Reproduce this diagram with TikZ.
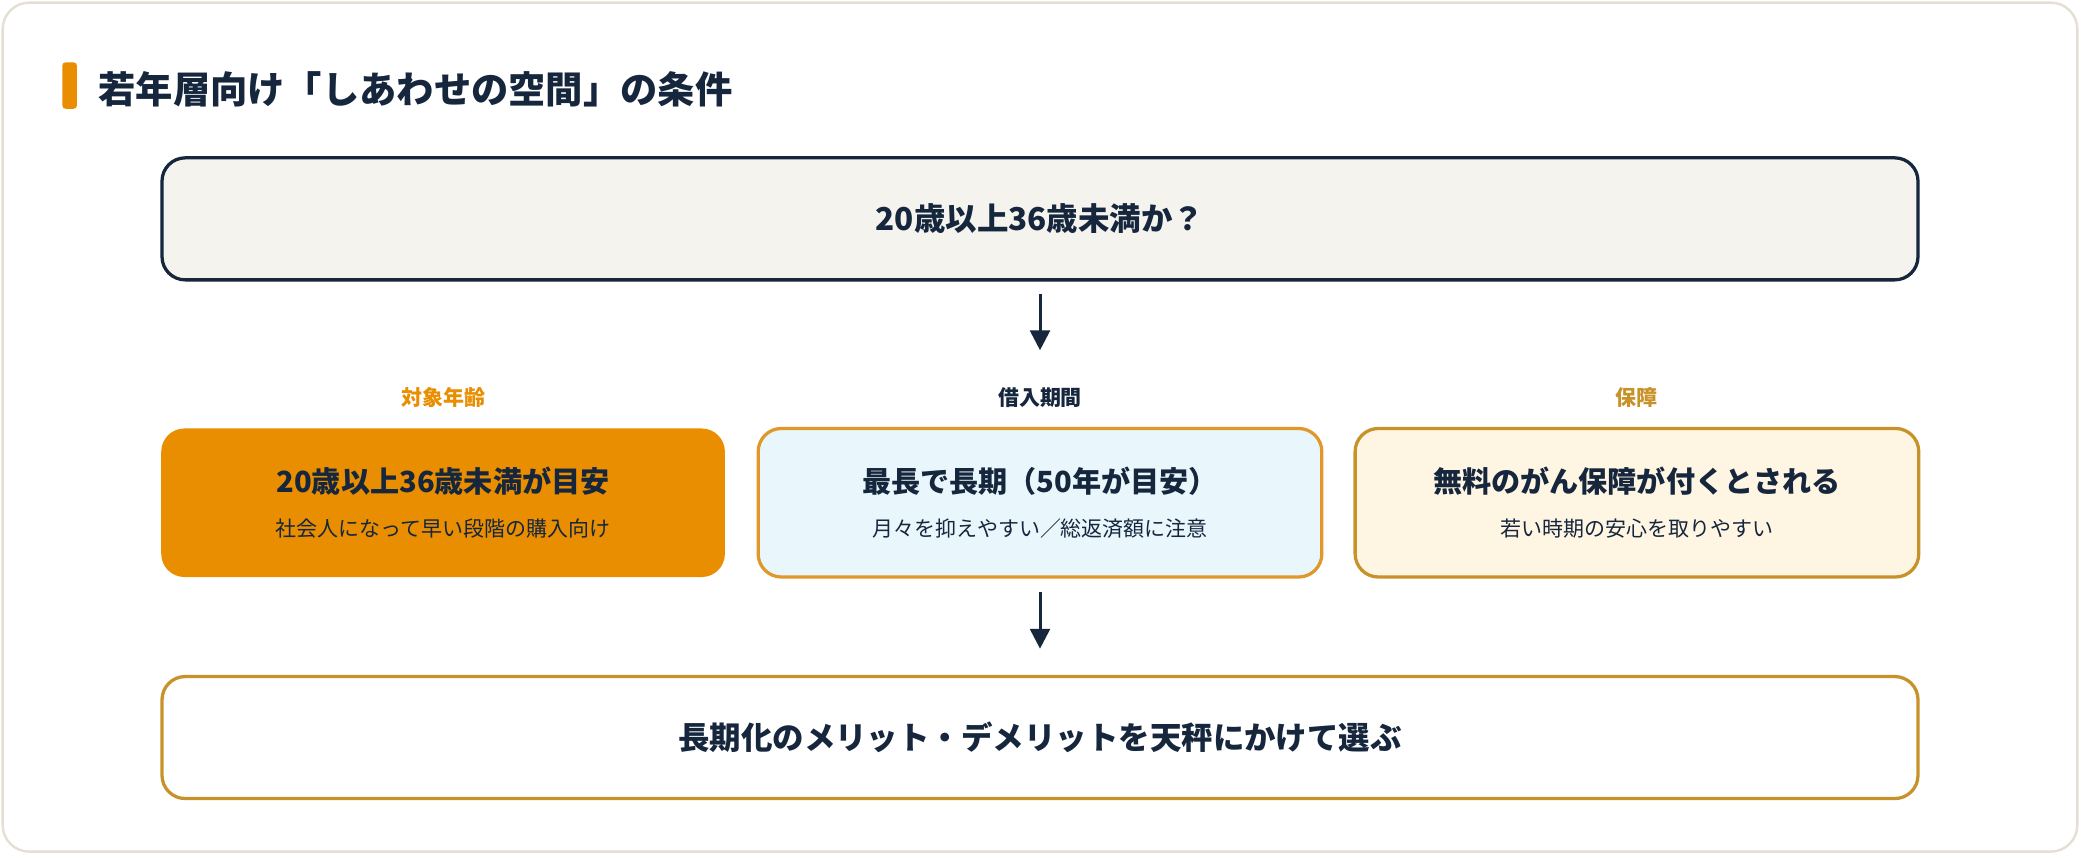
\documentclass[tikz,border=0pt]{standalone}
\usepackage{fontspec}
\setmainfont{Noto Sans CJK JP}
\usetikzlibrary{positioning, arrows.meta}
\definecolor{navy}{HTML}{15263D}
\definecolor{orangeA}{HTML}{E88E00}
\definecolor{goldB}{HTML}{C8922A}
\definecolor{goldC}{HTML}{E0982A}
\definecolor{paper}{HTML}{F5F3EE}
\definecolor{iceblue}{HTML}{E9F7FC}
\definecolor{cream}{HTML}{FFF5E3}
\definecolor{frame}{HTML}{E3DFD2}

\begin{document}
\begin{tikzpicture}
    [
        x=0.02cm, y=-0.02cm,
        wide_box/.style={draw=navy, rounded corners=3.5mm, line width=1.4pt, minimum width=26.48cm, minimum height=1.84cm, text=navy, font=\fontsize{13.5}{16}\selectfont\bfseries},
        card/.style={rounded corners=3.5mm, line width=1.4pt, minimum width=8.5cm, minimum height=2.24cm, align=center, text=navy},
        head_label/.style={font=\fontsize{9}{11}\selectfont\bfseries},
        flow_arrow/.style={-{Triangle[length=3mm, width=3mm]}, line width=1.3pt, draw=navy},
    ]
        \useasboundingbox (0,0) rectangle (1568,644);
        \draw[frame, fill=white, line width=1pt, rounded corners=4mm] (2,2) rectangle (1566,642);
        % title
        \fill[orangeA, rounded corners=0.5mm] (47,47) rectangle (58,82);
        \node[anchor=west, text=navy, font=\fontsize{16}{19}\selectfont\bfseries] (title) at (68,67) {若年層向け「しあわせの空間」の条件};
        % question
        \node[wide_box, fill=paper] (ask) at (784,165) {20歳以上36歳未満か？};
        \coordinate (a1) at (784,222);
        \coordinate (a2) at (784,264);
        \draw[flow_arrow] (a1) -- (a2);
        % three cards
        \node[head_label, text=orangeA] (h1) at (334,300) {対象年齢};
        \node[head_label, text=navy] (h2) at (784,300) {借入期間};
        \node[head_label, text=goldB] (h3) at (1234,300) {保障};
        \node[card, fill=orangeA] (age) at (334,379) {{\fontsize{12.5}{15}\selectfont\bfseries 20歳以上36歳未満が目安}\\[2.5mm]{\fontsize{9}{11}\selectfont 社会人になって早い段階の購入向け}};
        \node[card, fill=iceblue, draw=goldC] (term) at (784,379) {{\fontsize{12.5}{15}\selectfont\bfseries 最長で長期（50年が目安）}\\[2.5mm]{\fontsize{9}{11}\selectfont 月々を抑えやすい／総返済額に注意}};
        \node[card, fill=cream, draw=goldB] (cover) at (1234,379) {{\fontsize{12.5}{15}\selectfont\bfseries 無料のがん保障が付くとされる}\\[2.5mm]{\fontsize{9}{11}\selectfont 若い時期の安心を取りやすい}};
        \coordinate (b1) at (784,446);
        \coordinate (b2) at (784,489);
        \draw[flow_arrow] (b1) -- (b2);
        % result
        \node[wide_box, fill=white, draw=goldB] (choose) at (784,556) {長期化のメリット・デメリットを天秤にかけて選ぶ};
    \end{tikzpicture}
\end{document}
